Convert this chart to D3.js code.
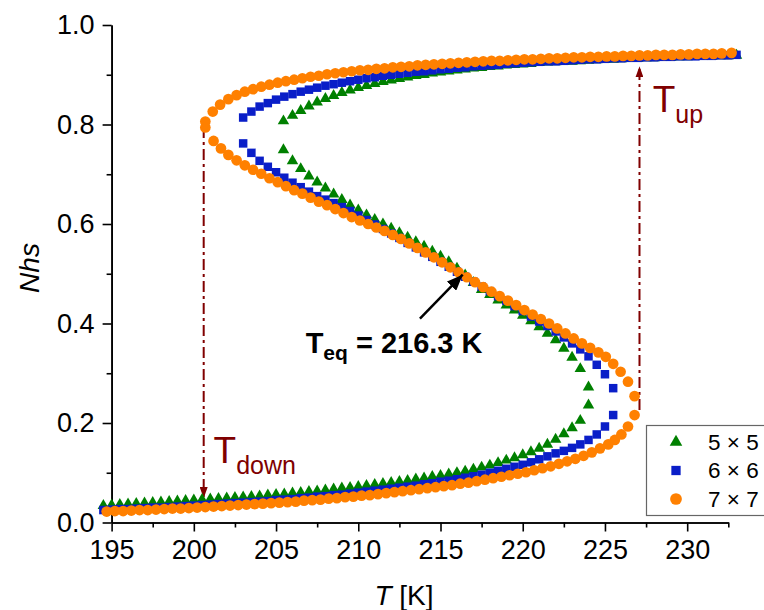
<!DOCTYPE html>
<html lang="en">
<head>
<meta charset="UTF-8" />
<title>Nhs vs T</title>
<style>
  body { margin: 0; background: #fff; }
  svg { display: block; font-family: "Liberation Sans", Arial, sans-serif; }
  .axis path, .axis line { stroke: #000; stroke-width: 1.6; }
  .axis text { font-size: 27px; fill: #000; font-family: "Liberation Sans", Arial, sans-serif; }
  .note { fill: #800000; }
</style>
</head>
<body>
<svg width="764" height="610"></svg>
<script src="https://d3js.org/d3.v7.min.js"></script>
<script>
// ---- data: [T (K), Nhs] ----
const lower5 = [[194.5,.034],[195,.035],[195.5,.036],[196,.037],[196.5,.038],[197,.039],[197.5,.040],[198,.041],[198.5,.042],[199,.043],[199.5,.044],[200,.045],[200.5,.046],[201,.047],[201.5,.048],[202,.049],[202.5,.050],[203,.051],[203.5,.052],[204,.053],[204.5,.055],[205,.056],[205.5,.057],[206,.059],[206.5,.060],[207,.062],[207.5,.063],[208,.065],[208.5,.067],[209,.069],[209.5,.070],[210,.072],[210.5,.074],[211,.076],[211.5,.078],[212,.080],[212.5,.082],[213,.084],[213.5,.087],[214,.089],[214.5,.092],[215,.094],[215.5,.097],[216,.100],[216.5,.103],[217,.107],[217.5,.111],[218,.115],[218.5,.120],[219,.125],[219.5,.130],[220,.136],[220.5,.142],[221,.149],[221.5,.157],[222,.167],[222.5,.178],[223,.190],[223.5,.205],[224,.236]];
const middle5 = [[224,.272],[223.5,.309],[223,.332],[222.5,.350],[222,.367],[221.5,.380],[221,.393],[220.5,.405],[220,.416],[219.5,.427],[219,.437],[218.5,.447],[218,.458],[217.5,.468],[217,.482],[216.5,.497],[216,.511],[215.5,.524],[215,.535],[214.5,.545],[214,.555],[213.5,.564],[213,.573],[212.5,.582],[212,.591],[211.5,.600],[211,.609],[210.5,.618],[210,.628],[209.5,.638],[209,.649],[208.5,.660],[208,.672],[207.5,.684],[207,.696],[206.5,.711],[206,.727],[205.45,.749]];
const upper5 = [[205.45,.807],[206,.818],[206.5,.828],[207,.837],[207.5,.845],[208,.852],[208.5,.858],[209,.864],[209.5,.869],[210,.874],[210.5,.878],[211,.882],[211.5,.886],[212,.889],[212.5,.892],[213,.895],[213.5,.898],[214,.900],[214.5,.903],[215,.905],[215.5,.907],[216,.909],[216.5,.911],[217,.913],[217.5,.914],[218,.916],[218.5,.917],[219,.919],[219.5,.920],[220,.921],[220.5,.922],[221,.924],[221.5,.925],[222,.926],[222.5,.927],[223,.927],[223.5,.928],[224,.929],[224.5,.930],[225,.931],[225.5,.931],[226,.932],[226.5,.933],[227,.933],[227.5,.934],[228,.934],[228.5,.935],[229,.935],[229.5,.936],[230,.936],[230.5,.937],[231,.937],[231.5,.937],[232,.938],[232.5,.938],[233,.939]];

const lower6 = [[194.5,.025],[195,.026],[195.5,.027],[196,.027],[196.5,.028],[197,.029],[197.5,.030],[198,.030],[198.5,.031],[199,.032],[199.5,.033],[200,.034],[200.5,.035],[201,.036],[201.5,.037],[202,.038],[202.5,.039],[203,.040],[203.5,.041],[204,.042],[204.5,.043],[205,.045],[205.5,.046],[206,.047],[206.5,.049],[207,.050],[207.5,.052],[208,.053],[208.5,.055],[209,.056],[209.5,.058],[210,.060],[210.5,.062],[211,.064],[211.5,.066],[212,.068],[212.5,.070],[213,.072],[213.5,.074],[214,.077],[214.5,.079],[215,.082],[215.5,.084],[216,.087],[216.5,.090],[217,.093],[217.5,.096],[218,.100],[218.5,.104],[219,.108],[219.5,.112],[220,.116],[220.5,.121],[221,.127],[221.5,.133],[222,.139],[222.5,.144],[223,.150],[223.5,.157],[224,.166],[224.5,.177],[225,.193],[225.5,.216]];
const middle6 = [[225.5,.270],[225,.298],[224.5,.317],[224,.334],[223.5,.348],[223,.360],[222.5,.372],[222,.384],[221.5,.395],[221,.404],[220.5,.414],[220,.425],[219.5,.435],[219,.446],[218.5,.455],[218,.465],[217.5,.474],[217,.484],[216.5,.494],[216,.504],[215.5,.514],[215,.524],[214.5,.534],[214,.543],[213.5,.553],[213,.562],[212.5,.572],[212,.581],[211.5,.590],[211,.599],[210.5,.608],[210,.617],[209.5,.626],[209,.634],[208.5,.642],[208,.649],[207.5,.656],[207,.665],[206.5,.674],[206,.683],[205.5,.693],[205,.704],[204.5,.715],[204,.727],[203.5,.743],[203,.762]];
const upper6 = [[203,.814],[203.5,.826],[204,.836],[204.5,.843],[205,.850],[205.5,.856],[206,.861],[206.5,.866],[207,.870],[207.5,.874],[208,.878],[208.5,.881],[209,.884],[209.5,.887],[210,.890],[210.5,.893],[211,.895],[211.5,.898],[212,.900],[212.5,.902],[213,.904],[213.5,.906],[214,.907],[214.5,.909],[215,.911],[215.5,.912],[216,.914],[216.5,.915],[217,.917],[217.5,.918],[218,.919],[218.5,.920],[219,.922],[219.5,.923],[220,.924],[220.5,.925],[221,.926],[221.5,.927],[222,.927],[222.5,.928],[223,.929],[223.5,.930],[224,.931],[224.5,.931],[225,.932],[225.5,.933],[226,.933],[226.5,.934],[227,.934],[227.5,.935],[228,.935],[228.5,.936],[229,.936],[229.5,.937],[230,.937],[230.5,.937],[231,.938],[231.5,.938],[232,.939],[232.5,.939],[233,.940]];

const lower7 = [[194.7,.022],[195.2,.023],[195.7,.023],[196.2,.024],[196.7,.025],[197.2,.025],[197.7,.026],[198.2,.027],[198.7,.028],[199.2,.028],[199.7,.029],[200.2,.030],[200.7,.031],[201.2,.032],[201.7,.033],[202.2,.034],[202.7,.035],[203.2,.036],[203.7,.037],[204.2,.038],[204.7,.039],[205.2,.040],[205.7,.041],[206.2,.042],[206.7,.044],[207.2,.045],[207.7,.046],[208.2,.048],[208.7,.049],[209.2,.051],[209.7,.052],[210.2,.054],[210.7,.055],[211.2,.057],[211.7,.059],[212.2,.061],[212.7,.063],[213.2,.065],[213.7,.067],[214.2,.069],[214.7,.071],[215.2,.073],[215.7,.075],[216.2,.078],[216.7,.080],[217.2,.083],[217.7,.086],[218.2,.089],[218.7,.092],[219.2,.095],[219.7,.098],[220.2,.101],[220.7,.105],[221.2,.109],[221.7,.113],[222.2,.118],[222.7,.123],[223.2,.128],[223.7,.134],[224.2,.141],[224.7,.149],[225.2,.157],[225.6,.166],[226.0,.177],[226.4,.193],[226.8,.216]];
const middle7 = [[226.8,.254],[226.4,.283],[225.95,.303],[225.5,.319],[225.05,.333],[224.6,.342],[224.1,.351],[223.6,.360],[223.1,.370],[222.6,.380],[222.1,.390],[221.6,.400],[221.1,.409],[220.6,.418],[220.1,.427],[219.6,.437],[219.1,.446],[218.6,.455],[218.1,.464],[217.6,.473],[217.1,.483],[216.6,.493],[216.1,.503],[215.6,.513],[215.1,.523],[214.6,.533],[214.1,.543],[213.6,.552],[213.1,.561],[212.6,.570],[212.1,.578],[211.6,.586],[211.1,.593],[210.6,.600],[210.1,.607],[209.6,.614],[209.1,.622],[208.6,.630],[208.1,.638],[207.6,.645],[207.1,.653],[206.6,.661],[206.1,.668],[205.6,.676],[205.1,.684],[204.6,.692],[204.1,.701],[203.6,.709],[203.1,.718],[202.6,.728],[202.1,.739],[201.65,.752],[201.2,.767],[200.7,.794]];
const upper7 = [[200.7,.806],[201.15,.826],[201.6,.840],[202.1,.851],[202.6,.859],[203.1,.866],[203.6,.871],[204.1,.876],[204.6,.880],[205.1,.884],[205.6,.887],[206.1,.890],[206.6,.893],[207.1,.896],[207.6,.898],[208.1,.901],[208.6,.903],[209.1,.905],[209.6,.907],[210.1,.909],[210.6,.910],[211.1,.912],[211.6,.913],[212.1,.915],[212.6,.916],[213.1,.917],[213.6,.919],[214.1,.920],[214.6,.921],[215.1,.922],[215.6,.923],[216.1,.924],[216.6,.925],[217.1,.926],[217.6,.927],[218.1,.928],[218.6,.928],[219.1,.929],[219.6,.930],[220.1,.931],[220.6,.931],[221.1,.932],[221.6,.933],[222.1,.933],[222.6,.934],[223.1,.935],[223.6,.935],[224.1,.936],[224.6,.936],[225.1,.937],[225.6,.937],[226.1,.938],[226.6,.938],[227.1,.939],[227.6,.939],[228.1,.940],[228.6,.940],[229.1,.940],[229.6,.941],[230.1,.941],[230.6,.942],[231.1,.942],[231.6,.942],[232.1,.943],[232.7,.944]];

const seriesNames = ["5 \u00d7 5", "6 \u00d7 6", "7 \u00d7 7"];
const xMajor = [195, 200, 205, 210, 215, 220, 225, 230];
const xMinor = [197.5, 202.5, 207.5, 212.5, 217.5, 222.5, 227.5, 232.5];
const yMajor = [0, 0.2, 0.4, 0.6, 0.8, 1.0];
const yMinor = [0.1, 0.3, 0.5, 0.7, 0.9];

// annotations (data units)
const tDown = [200.6, 0.795, 0.049];   // T, from, to
const tUp = [227.1, 0.226, 0.917];
const tEqArrow = [[213.75, 0.41], [216.35, 0.498]];
const tEqValue = "216.3";

// ---- chart ----
const svg = d3.select("svg");
const x = d3.scaleLinear().domain([195, 232.5]).range([111.6, 728.3]);
const y = d3.scaleLinear().domain([0, 1]).range([522.5, 25]);

const dark = "#800000";

svg.append("defs").selectAll("marker")
  .data([["arrRed", dark, 8, 11], ["arrBlack", "#000", 13, 16]])
  .enter().append("marker")
  .attr("id", d => d[0])
  .attr("viewBox", "0 -5 10 10")
  .attr("refX", 10).attr("refY", 0)
  .attr("markerUnits", "userSpaceOnUse")
  .attr("markerWidth", d => d[3]).attr("markerHeight", d => d[2])
  .attr("preserveAspectRatio", "none")
  .attr("orient", "auto")
  .append("path")
  .attr("d", "M0,-5L10,0L0,5Z")
  .attr("fill", d => d[1]);

// axes
svg.append("g").attr("class", "axis")
  .attr("transform", `translate(0,${y(0)})`)
  .call(d3.axisBottom(x).tickValues(xMajor).tickSize(9).tickSizeOuter(0).tickPadding(8).tickFormat(d3.format("d")));
svg.append("g").attr("class", "axis")
  .attr("transform", `translate(0,${y(0)})`)
  .call(d3.axisBottom(x).tickValues(xMinor).tickSize(5).tickSizeOuter(0).tickFormat(""));

svg.append("g").attr("class", "axis")
  .attr("transform", `translate(${x(195)},0)`)
  .call(d3.axisLeft(y).tickValues(yMajor).tickSize(9).tickSizeOuter(0).tickPadding(8).tickFormat(d3.format(".1f")));
svg.append("g").attr("class", "axis")
  .attr("transform", `translate(${x(195)},0)`)
  .call(d3.axisLeft(y).tickValues(yMinor).tickSize(5).tickSizeOuter(0).tickFormat(""));

// axis titles
const xt = svg.append("text").attr("x", 404).attr("y", 605)
  .attr("text-anchor", "middle").style("font-size", "28px");
xt.append("tspan").style("font-style", "italic").text("T");
xt.append("tspan").text(" [K]");

svg.append("text")
  .attr("transform", "translate(39,268) rotate(-90)")
  .attr("text-anchor", "middle")
  .style("font-size", "28px").style("font-style", "italic")
  .text("Nhs");

// annotation lines
[tDown, tUp].forEach(a => {
  svg.append("line")
    .attr("x1", x(a[0])).attr("x2", x(a[0]))
    .attr("y1", y(a[1])).attr("y2", y(a[2]))
    .attr("stroke", dark).attr("stroke-width", 2)
    .attr("stroke-dasharray", "11,4,3,4")
    .attr("marker-end", "url(#arrRed)");
});

// series
const series = [
  { name: seriesNames[0], color: "#008000", type: d3.symbolTriangle, size: 57, data: lower5.concat(middle5, upper5) },
  { name: seriesNames[1], color: "#0a1ec8", type: d3.symbolSquare, size: 72, data: lower6.concat(middle6, upper6) },
  { name: seriesNames[2], color: "#ff8000", type: d3.symbolCircle, size: 90, data: lower7.concat(middle7, upper7) }
];

series.forEach(s => {
  svg.append("g").selectAll("path")
    .data(s.data)
    .enter().append("path")
    .attr("transform", d => `translate(${x(d[0])},${y(d[1])})`)
    .attr("d", d3.symbol().type(s.type).size(s.size))
    .attr("fill", s.color);
});

// T_eq arrow and label
svg.append("line")
  .attr("x1", x(tEqArrow[0][0])).attr("y1", y(tEqArrow[0][1]))
  .attr("x2", x(tEqArrow[1][0])).attr("y2", y(tEqArrow[1][1]))
  .attr("stroke", "#000").attr("stroke-width", 2.5)
  .attr("marker-end", "url(#arrBlack)");

const eq = svg.append("text").attr("x", x(206.8)).attr("y", y(0.34))
  .style("font-size", "29px").style("font-weight", "bold");
eq.append("tspan").text("T");
eq.append("tspan").attr("dy", 7).style("font-size", "21px").text("eq");
eq.append("tspan").attr("dy", -7).text(" = " + tEqValue + " K");

// T_down / T_up labels
const td = svg.append("text").attr("class", "note").attr("x", x(201.2)).attr("y", y(0.12))
  .style("font-size", "37px");
td.append("tspan").text("T");
td.append("tspan").attr("dy", 11).style("font-size", "25px").text("down");

const tu = svg.append("text").attr("class", "note").attr("x", x(227.9)).attr("y", y(0.826))
  .style("font-size", "37px");
tu.append("tspan").text("T");
tu.append("tspan").attr("dy", 11).style("font-size", "25px").text("up");

// legend
const legend = svg.append("g");
legend.append("rect")
  .attr("x", 646.5).attr("y", 425.5).attr("width", 140).attr("height", 90)
  .attr("fill", "#fff").attr("stroke", "#666").attr("stroke-width", 1.2);
series.forEach((s, i) => {
  const ly = 442 + i * 28.5;
  legend.append("path")
    .attr("transform", `translate(676,${ly})`)
    .attr("d", d3.symbol().type(s.type).size(s.size * 1.2))
    .attr("fill", s.color);
  legend.append("text")
    .attr("x", 708).attr("y", ly + 7.5)
    .style("font-size", "22.5px")
    .text(s.name);
});
</script>
</body>
</html>
